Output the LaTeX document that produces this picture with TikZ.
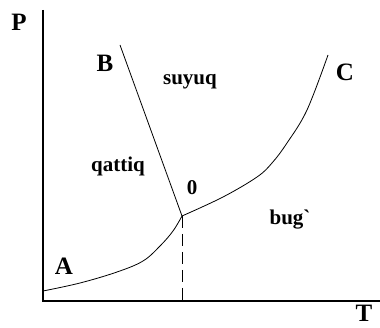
\documentclass[tikz,border=0pt]{standalone}
\usepackage{fontspec}
\setmainfont{Liberation Serif}
\begin{document}
\begin{tikzpicture}[x=1pt,y=-1pt,
  axis/.style={line width=1.1pt},
  phase/.style={line width=0.8pt},
  lbl/.style={font=\fontsize{25}{27}\selectfont\bfseries, inner sep=0pt},
  reg/.style={font=\fontsize{21}{24}\selectfont\bfseries, inner sep=0pt}]
\useasboundingbox (0,0) rectangle (380,328);
\coordinate (Ytop) at (43,10);
\coordinate (Org) at (43,301);
\coordinate (Xend) at (380,301);
\coordinate (O) at (182,216);
\coordinate (Bend) at (120,45);
\coordinate (Cend) at (328,55);
\coordinate (Aend) at (43,291);
\coordinate (Foot) at (182,301);
\draw[axis] (Ytop) -- (Org) -- (Xend);
\draw[phase] (Bend) -- (O);
\draw[phase] plot[smooth,tension=0.6] coordinates {(Aend) (80,283) (117,272) (143,261) (160,246) (173,231) (O)};
\draw[phase] plot[smooth,tension=0.6] coordinates {(O) (223,197) (257,177) (272,163) (287,143) (307,110) (Cend)};
\draw[phase,dash pattern=on 12pt off 6pt] (O) -- (Foot);
\node[lbl] (P) at (19,22) {P};
\node[lbl] (B) at (105,63) {B};
\node[lbl] (C) at (345,72) {C};
\node[lbl] (A) at (64,266) {A};
\node[lbl] (T) at (364,313) {T};
\node[reg] (zero) at (192,188) {0};
\node[reg] (suyuq) at (190,82) {suyuq};
\node[reg] (qattiq) at (118,166) {qattiq};
\node[reg] (bug) at (290,220) {bug\textasciigrave};
\end{tikzpicture}
\end{document}
